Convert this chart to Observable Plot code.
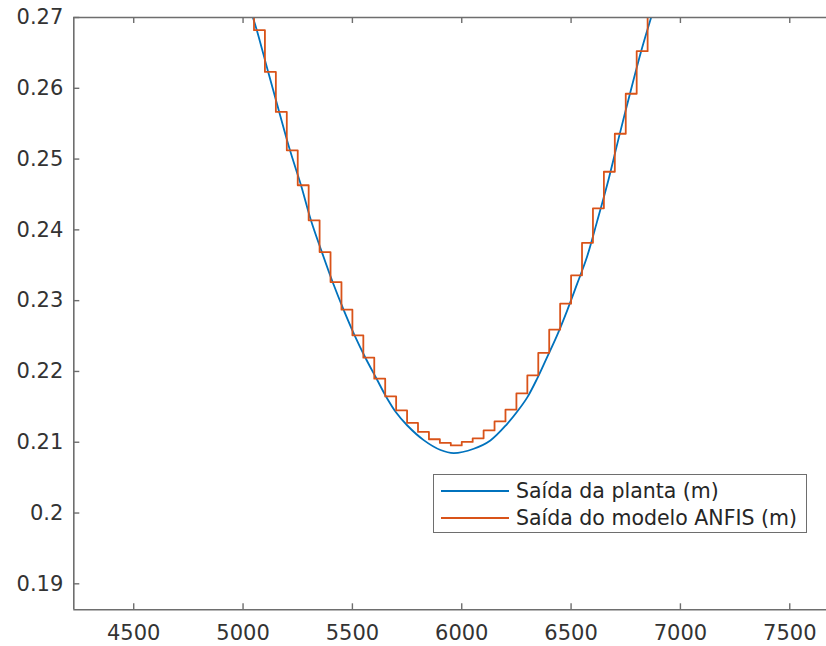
<!DOCTYPE html>
<html>
<head>
<meta charset="utf-8">
<script src="https://cdn.jsdelivr.net/npm/d3@7"></script>
<script src="https://cdn.jsdelivr.net/npm/@observablehq/plot@0.6"></script>
<style>
  html, body { margin: 0; padding: 0; background: #fff; }
  #wrap { position: relative; width: 826px; height: 646px; overflow: hidden; }
  #legend { position: absolute; left: 433px; top: 474px; width: 372px; height: 57px;
    border: 1.5px solid #6e6e6e; background: #fff; font-family: "DejaVu Sans", sans-serif;
    font-size: 20.5px; color: #262626; }
  .row { position: absolute; left: 0; height: 26px; width: 100%; }
  .swatch { position: absolute; left: 7px; width: 68px; height: 0; border-top: 2px solid; top: 12px; }
  .lab { position: absolute; left: 82px; top: 0; line-height: 26px; white-space: nowrap; }
</style>
</head>
<body>
<div id="wrap"></div>
<script>
// ---- data ----
const seriesNames = ["Saída da planta (m)", "Saída do modelo ANFIS (m)"];
const seriesColors = ["#0072BD", "#D95319"];

const xTicks = [4500, 5000, 5500, 6000, 6500, 7000, 7500];
const yTicks = [0.19, 0.2, 0.21, 0.22, 0.23, 0.24, 0.25, 0.26, 0.27];
const xDomain = [4226, 7668];
const yDomain = [0.18633, 0.27];

// planta (smooth curve)
const plantaX = [5045, 5063, 5115, 5165, 5215, 5265, 5310, 5360, 5410, 5460, 5510, 5560, 5610, 5655,
  5700, 5750, 5826, 5903, 5963, 6055, 6131, 6208, 6253, 6299, 6345, 6390, 6436, 6482, 6528, 6573, 6619,
  6672, 6718, 6769, 6821, 6866];
const plantaY = [0.2700, 0.2682, 0.2623, 0.2567, 0.2512, 0.2463, 0.2414, 0.2369, 0.2326, 0.2287,
  0.2251, 0.2219, 0.2190, 0.2164, 0.2142, 0.2124, 0.2103, 0.2089, 0.20846, 0.20908, 0.21025,
  0.2126, 0.2143, 0.2163, 0.2190, 0.2220, 0.2251, 0.2286, 0.2324, 0.2362, 0.2412, 0.2472, 0.2530,
  0.2592, 0.2653, 0.2700];

// ANFIS (staircase)
const anfisX = [5000, 5050, 5100, 5150, 5200, 5250, 5300, 5350, 5400, 5450, 5500, 5550, 5600, 5650,
  5700, 5750, 5800, 5850, 5900, 5950, 6000, 6050, 6100, 6150, 6200, 6250, 6300, 6350, 6400, 6450,
  6500, 6550, 6600, 6650, 6700, 6750, 6800, 6850, 6900];
const anfisY = [0.2740, 0.26821, 0.26231, 0.25666, 0.25124, 0.24630, 0.24135, 0.23687, 0.23263,
  0.22873, 0.22510, 0.22194, 0.21898, 0.21647, 0.21449, 0.21273, 0.21146, 0.21042, 0.20990,
  0.20955, 0.21004, 0.21055, 0.21167, 0.21294, 0.21460, 0.21690, 0.21945, 0.22262, 0.22590,
  0.22958, 0.23358, 0.23817, 0.24305, 0.24821, 0.25358, 0.25923, 0.26524, 0.2740, 0.2740];

const planta = plantaX.map((x, i) => ({x, y: plantaY[i]}));
const anfis = anfisX.map((x, i) => ({x, y: anfisY[i]}));

const axisColor = "#6e6e6e";
const textColor = "#333333";
const fmtY = d => String(+d.toFixed(2));

const W = 826, H = 646, mL = 73.3, mR = 0, mT = 17, mB = 36.7;
const tickLen = 6;
const innerH = H - mT - mB, innerW = W - mL - mR;

const chart = Plot.plot({
  width: W, height: H,
  marginLeft: mL, marginRight: mR, marginTop: mT, marginBottom: mB,
  x: {domain: xDomain},
  y: {domain: yDomain},
  style: {fontFamily: "DejaVu Sans, sans-serif", fontSize: "21px", background: "#fff", overflow: "hidden"},
  marks: [
    Plot.line(planta, {x: "x", y: "y", stroke: seriesColors[0], strokeWidth: 1.8, curve: "catmull-rom", clip: true}),
    Plot.line(anfis, {x: "x", y: "y", stroke: seriesColors[1], strokeWidth: 1.8, curve: "step-after", clip: true}),
    // frame (left, bottom, top)
    Plot.ruleX([xDomain[0]], {x: d => d, stroke: axisColor, strokeWidth: 1.6}),
    Plot.ruleY([yDomain[0], yDomain[1]], {y: d => d, stroke: axisColor, strokeWidth: 1.6}),
    // inward ticks
    Plot.tickX(xTicks, {x: d => d, insetTop: innerH - tickLen, stroke: axisColor, strokeWidth: 1.4}),
    Plot.tickX(xTicks, {x: d => d, insetBottom: innerH - tickLen, stroke: axisColor, strokeWidth: 1.4}),
    Plot.tickY(yTicks, {y: d => d, insetRight: innerW - tickLen, stroke: axisColor, strokeWidth: 1.4}),
    // labels
    Plot.axisX({ticks: xTicks, tickSize: 0, tickPadding: 15, tickFormat: d => String(d), color: textColor, fontSize: 21, label: null}),
    Plot.axisY({ticks: yTicks, tickSize: 0, tickPadding: 10.5, tickFormat: fmtY, color: textColor, fontSize: 21, label: null})
  ]
});

const wrap = document.getElementById("wrap");
wrap.appendChild(chart);

// legend
const legend = document.createElement("div");
legend.id = "legend";
seriesNames.forEach((name, i) => {
  const row = document.createElement("div");
  row.className = "row";
  row.style.top = (3 + i * 26.5) + "px";
  const sw = document.createElement("div");
  sw.className = "swatch";
  sw.style.borderTopColor = seriesColors[i];
  const lab = document.createElement("div");
  lab.className = "lab";
  lab.textContent = name;
  row.appendChild(sw);
  row.appendChild(lab);
  legend.appendChild(row);
});
wrap.appendChild(legend);
</script>
</body>
</html>
